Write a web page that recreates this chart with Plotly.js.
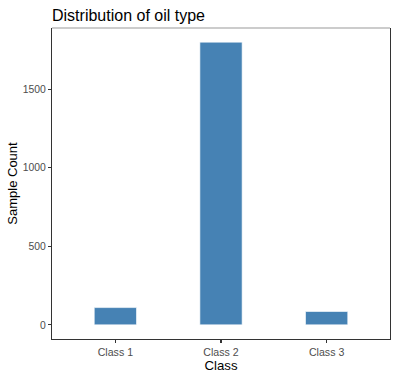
<!DOCTYPE html>
<html>
<head>
<meta charset="utf-8">
<script src="https://cdn.plot.ly/plotly-3.0.1.min.js"></script>
<style>
  html, body { margin: 0; padding: 0; background: #fff; }
  #plot { width: 397px; height: 379px; }
</style>
</head>
<body>
<div id="plot"></div>
<script>
// oil type counts per class
var classes = ['Class 1', 'Class 2', 'Class 3'];
var counts = [110, 1800, 85];
var yTicks = [0, 500, 1000, 1500];

var trace = {
    x: classes,
    y: counts,
    type: 'bar',
    width: 0.4,
    marker: {color: '#4682B4', line: {color: '#ffffff', width: 0.6}},
    hoverinfo: 'x+y'
};

var font = 'Liberation Sans, Arial, sans-serif';

var layout = {
    width: 397,
    height: 379,
    margin: {l: 52, r: 7, t: 28, b: 40},
    paper_bgcolor: '#ffffff',
    plot_bgcolor: '#ffffff',
    showlegend: false,
    title: {
        text: 'Distribution of oil type',
        font: {family: font, size: 16, color: '#000000'},
        x: 0, xanchor: 'left', xref: 'paper',
        y: 1 - 21 / 379, yanchor: 'bottom', yref: 'container'
    },
    xaxis: {
        range: [-0.6, 2.6],
        showgrid: false, zeroline: false,
        showline: true, linecolor: '#333333', linewidth: 1.1,
        ticks: 'outside', ticklen: 3, tickcolor: '#333333', tickwidth: 1.1,
        tickfont: {family: font, size: 10.6, color: '#4d4d4d'},
        title: {text: 'Class', font: {family: font, size: 13.2, color: '#000000'}, standoff: 3}
    },
    yaxis: {
        range: [-90, 1890],
        tickvals: yTicks,
        ticktext: yTicks.map(String),
        showgrid: false, zeroline: false,
        showline: true, linecolor: '#333333', linewidth: 1.1, mirror: true,
        ticks: 'outside', ticklen: 3, tickcolor: '#333333', tickwidth: 1.1,
        tickfont: {family: font, size: 10.4, color: '#4d4d4d'},
        title: {text: 'Sample Count', font: {family: font, size: 13, color: '#000000'}, standoff: 2}
    },
    shapes: [{
        type: 'line', xref: 'paper', yref: 'paper',
        x0: 0, x1: 1, y0: 1, y1: 1,
        line: {color: '#999999', width: 1.1}
    }]
};

Plotly.newPlot('plot', [trace], layout, {displayModeBar: false, staticPlot: true});
</script>
</body>
</html>
